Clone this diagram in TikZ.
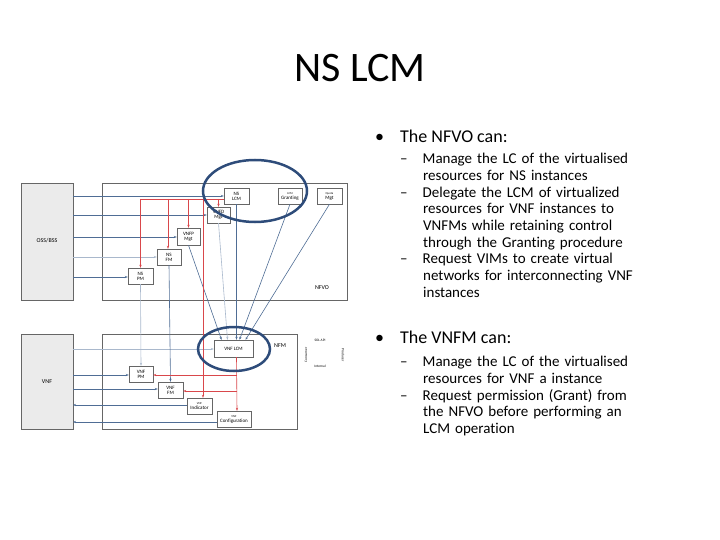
\documentclass[tikz,border=0pt]{standalone}
\usepackage{fontspec}
\setmainfont{Carlito}[Ligatures={NoCommon}]
\usetikzlibrary{arrows.meta,positioning}
\definecolor{apiblue}{HTML}{4F6D95}
\definecolor{apilight}{HTML}{A9B8CC}
\definecolor{intred}{HTML}{D9474B}
\definecolor{ringblue}{HTML}{2E4C7A}
\tikzstyle{arrow} = [apiblue,semithick,-{Stealth[length=3pt]}]
\tikzstyle{larrow} = [apilight,semithick,-{Stealth[length=3pt]}]
\tikzstyle{rarrow} = [intred,semithick,-{Stealth[length=3pt]}]
\begin{document}
\begin{tikzpicture}[x=1pt,y=-1pt]
	\tikzstyle{block}=[draw=black!60,fill=black!8,thin]
	\tikzstyle{frame}=[draw=black!60,thin]
	\tikzstyle{fb}=[draw=black!60,fill=white,thin,align=center,font=\fontsize{5}{5}\selectfont,inner sep=0pt]
	\useasboundingbox (0,0) rectangle (720,540);
	\node (title) at (360,68) {\fontsize{42}{42}\selectfont NS LCM};
	% left blocks
	\draw[block] (21,183) rectangle (73,300);
	\node[font=\fontsize{6}{6}\selectfont] (oss) at (47,241) {OSS/BSS};
	\draw[frame] (102,183) rectangle (347,300);
	\node[font=\fontsize{6}{6}\selectfont] (nfvo) at (322,288) {NFVO};
	\draw[block] (21,334) rectangle (73,429);
	\node[font=\fontsize{6}{6}\selectfont] (vnf) at (47,382) {VNF};
	\draw[frame] (102,334) rectangle (297,429);
	\node[font=\fontsize{6}{6}\selectfont] (vnfm) at (280,346) {NFM};
	% functional blocks
	\node[fb,minimum width=25pt,minimum height=16pt] (nslcm) at (236.5,196) {NS\\LCM};
	\node[fb,minimum width=24pt,minimum height=16pt] (grant) at (290,196) {\fontsize{3}{3}\selectfont LCM\\Granting};
	\node[fb,minimum width=25pt,minimum height=16pt] (quota) at (329.5,196) {\fontsize{3}{3}\selectfont Quota\\Mgt};
	\node[fb,minimum width=23pt,minimum height=16pt] (vnfd) at (218.5,215) {VNFD\\Mgt};
	\node[fb,minimum width=23pt,minimum height=17pt] (vnfp) at (188.5,236.5) {VNFP\\Mgt};
	\node[fb,minimum width=24pt,minimum height=16pt] (nsfm) at (169,257) {NS\\FM};
	\node[fb,minimum width=25pt,minimum height=16pt] (nspm) at (140.5,276) {NS\\PM};
	\node[fb,minimum width=39pt,minimum height=17pt] (vnflcm) at (233.5,348.5) {VNF LCM};
	\node[fb,minimum width=24pt,minimum height=16pt] (vnfpm) at (141,374) {VNF\\PM};
	\node[fb,minimum width=25pt,minimum height=16pt] (vnffm) at (170.5,390) {VNF\\FM};
	\node[fb,minimum width=25pt,minimum height=16pt] (vnfind) at (199.5,406) {\fontsize{3}{3}\selectfont VNF\\Indicator};
	\node[fb,minimum width=34pt,minimum height=16pt] (vnfconf) at (234,419) {\fontsize{3}{3}\selectfont VNF\\Configuration};
	% SOL APIs from OSS/BSS and VNF
	\draw[arrow] (73,196) -- (nslcm.west |- 0,196);
	\draw[arrow] (73,215) -- (vnfd.west |- 0,215);
	\draw[arrow] (73,237) -- (vnfp.west |- 0,237);
	\draw[larrow] (73,257) -- (nsfm.west |- 0,257);
	\draw[arrow] (73,277) -- (nspm.west |- 0,277);
	\draw[larrow] (73,349) -- (vnflcm.west |- 0,349);
	\draw[arrow] (73,375) -- (vnfpm.west |- 0,375);
	\draw[arrow] (73,389) -- (vnffm.west |- 0,389);
	\draw[arrow] (vnfind.west |- 0,405) -- (73,405);
	\draw[arrow] (vnfconf.west |- 0,422) -- (73,422);
	% NFVO to VNFM
	\draw[arrow] (nslcm.south) -- (nslcm.south |- vnflcm.north);
	\draw[arrow] (grant.south) -- ([xshift=6pt]vnflcm.north);
	\draw[arrow] (quota.south) -- ([xshift=12pt]vnflcm.north);
	\draw[arrow] (vnfp.south) -- ([xshift=-12pt]vnflcm.north);
	\draw[larrow] (vnfd.south) -- ([xshift=-6pt]vnflcm.north);
	\draw[larrow] (nspm.south) -- (vnfpm.north);
	\draw[arrow] (nsfm.south) -- (vnffm.north);
	% internal
	\draw[intred,semithick] (140,199) -- (nslcm.west |- 0,199);
	\draw[rarrow] (nspm.north |- 0,199) -- (nspm.north);
	\draw[rarrow] (vnfp.north |- 0,199) -- (vnfp.north);
	\draw[rarrow] (218.5,199) -- (vnfd.north);
	\draw[intred,thick,-{Stealth[length=3pt]}] (168,199) -- (nsfm.north -| 168,0);
	\draw[rarrow] (203,199) -- (vnfind.north -| 203,0);
	\draw[rarrow] ([xshift=3pt]vnflcm.south) -- ([xshift=3pt]vnfconf.north);
	\draw[rarrow] (237,375) -- (vnfpm.east |- 0,375);
	\draw[rarrow] (237,391) -- (vnffm.east |- 0,391);
	% legend
	\node[font=\fontsize{3.5}{3.5}\selectfont] (solapi) at (320,340) {SOL API};
	\node[font=\fontsize{3.5}{3.5}\selectfont] (internal) at (320,366) {Internal};
	\node[font=\fontsize{3.5}{3.5}\selectfont,rotate=-90] (producer) at (343,355) {Producer};
	\node[font=\fontsize{3.5}{3.5}\selectfont,rotate=90] (consumer) at (306,355) {Consumer};
	% rings
	\draw[ringblue,line width=2.5pt] (255,191) ellipse (52pt and 31pt);
	\draw[ringblue,line width=2.5pt] (234,349) ellipse (36pt and 22pt);
	% text
	\begin{scope}[every node/.style={anchor=north west,inner sep=0pt,align=left}]
	\node[font=\fontsize{18}{18}\selectfont] (b1) at (375,130) {•\hspace{16pt}The NFVO can:};
	\node[font=\fontsize{15}{16.7}\selectfont,text width=260pt] (s1) at (400,153) {–\hspace{15pt}Manage the LC of the virtualised\\\hspace{23pt}resources for NS instances\\–\hspace{15pt}Delegate the LCM of virtualized\\\hspace{23pt}resources for VNF instances to\\\hspace{23pt}VNFMs while retaining control\\\hspace{23pt}through the Granting procedure\\–\hspace{15pt}Request VIMs to create virtual\\\hspace{23pt}networks for interconnecting VNF\\\hspace{23pt}instances};
	\node[font=\fontsize{18}{18}\selectfont] (b2) at (375,331) {•\hspace{16pt}The VNFM can:};
	\node[font=\fontsize{15}{16.7}\selectfont,text width=260pt] (s2) at (400,356) {–\hspace{15pt}Manage the LC of the virtualised\\\hspace{23pt}resources for VNF a instance\\–\hspace{15pt}Request permission (Grant) from\\\hspace{23pt}the NFVO before performing an\\\hspace{23pt}LCM operation};
	\end{scope}
\end{tikzpicture}
\end{document}
